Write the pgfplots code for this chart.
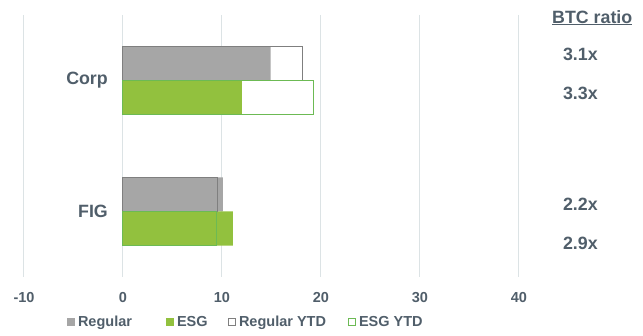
\documentclass[border=0pt]{standalone}
\usepackage{fontspec}
\setmainfont{Liberation Sans}
\usepackage{pgfplots}
\pgfplotsset{compat=1.18}

\definecolor{txt}{RGB}{80,94,106}
\definecolor{reggray}{RGB}{166,166,166}
\definecolor{regedge}{RGB}{127,127,127}
\definecolor{esggreen}{RGB}{146,193,62}
\definecolor{esgedge}{RGB}{108,186,84}
\definecolor{gridc}{RGB}{220,227,229}

\newcommand{\smallbf}{\fontsize{14.5}{17}\selectfont\bfseries}
\newcommand{\largebf}{\fontsize{17.8}{21}\selectfont\bfseries}

\begin{document}
\begin{tikzpicture}
\useasboundingbox (-24pt,-59pt) rectangle (619pt,277pt);
\begin{axis}[
  at={(0pt,0pt)}, anchor=south west,
  scale only axis, width=495pt, height=262pt,
  xmin=-10, xmax=40, ymin=-0.5, ymax=1.5, y dir=reverse,
  bar width=0.26,
  xtick={-10,0,10,20,30,40},
  ytick={0,1}, yticklabels={Corp,FIG},
  major tick length=0pt,
  axis line style={draw=none},
  xmajorgrids, grid style={gridc, line width=1pt},
  clip=false,
  tick label style={font=\smallbf, text=txt},
  /pgf/number format/assume math mode=true,
  xticklabel style={anchor=center, yshift=-21pt},
  yticklabel style={font=\largebf, anchor=east, inner xsep=0pt, xshift=84pt},
  legend columns=4,
  legend style={draw=none, fill=none, inner sep=0pt, outer sep=0pt,
    at={(0.0869,-0.1718)}, anchor=west, font=\smallbf, text=txt,
    column sep=0pt, nodes={inner xsep=3pt, inner ysep=0pt}},
]
% filled bars: issuance
\addplot[xbar, bar shift=-0.13, fill=reggray, draw=none,
  legend image code/.code={\fill[reggray] (0pt,-4pt) rectangle (8pt,4pt);}]
  coordinates {(14.9,0) (10.1,1)};
\addlegendentry{\makebox[85pt][l]{Regular}}
\addplot[xbar, bar shift=0.13, fill=esggreen, draw=none,
  legend image code/.code={\fill[esggreen] (0pt,-4pt) rectangle (8pt,4pt);}]
  coordinates {(12.0,0) (11.1,1)};
\addlegendentry{\makebox[48pt][l]{ESG}}
% outlined bars: year to date
\addplot[xbar, bar shift=-0.13, fill=none, draw=regedge, line width=1pt,
  legend image code/.code={\draw[regedge, line width=1pt] (0.5pt,-3.5pt) rectangle (7.5pt,3.5pt);}]
  coordinates {(18.1,0) (9.5,1)};
\addlegendentry{\makebox[106pt][l]{Regular YTD}}
\addplot[xbar, bar shift=0.13, fill=none, draw=esgedge, line width=1pt,
  legend image code/.code={\draw[esgedge, line width=1pt] (0.5pt,-3.5pt) rectangle (7.5pt,3.5pt);}]
  coordinates {(19.2,0) (9.4,1)};
\addlegendentry{ESG YTD}

% bid-to-cover ratios
\node[font=\largebf, text=txt, anchor=north, inner sep=0pt, yshift=5pt]
  at (axis cs:47.4,-0.5) {\underline{BTC ratio}};
\node[font=\largebf, text=txt, inner sep=0pt] at (axis cs:46.2,-0.2) {3.1x};
\node[font=\largebf, text=txt, inner sep=0pt] at (axis cs:46.2,0.098) {3.3x};
\node[font=\largebf, text=txt, inner sep=0pt] at (axis cs:46.2,0.947) {2.2x};
\node[font=\largebf, text=txt, inner sep=0pt] at (axis cs:46.2,1.243) {2.9x};
\end{axis}
\end{tikzpicture}
\end{document}
